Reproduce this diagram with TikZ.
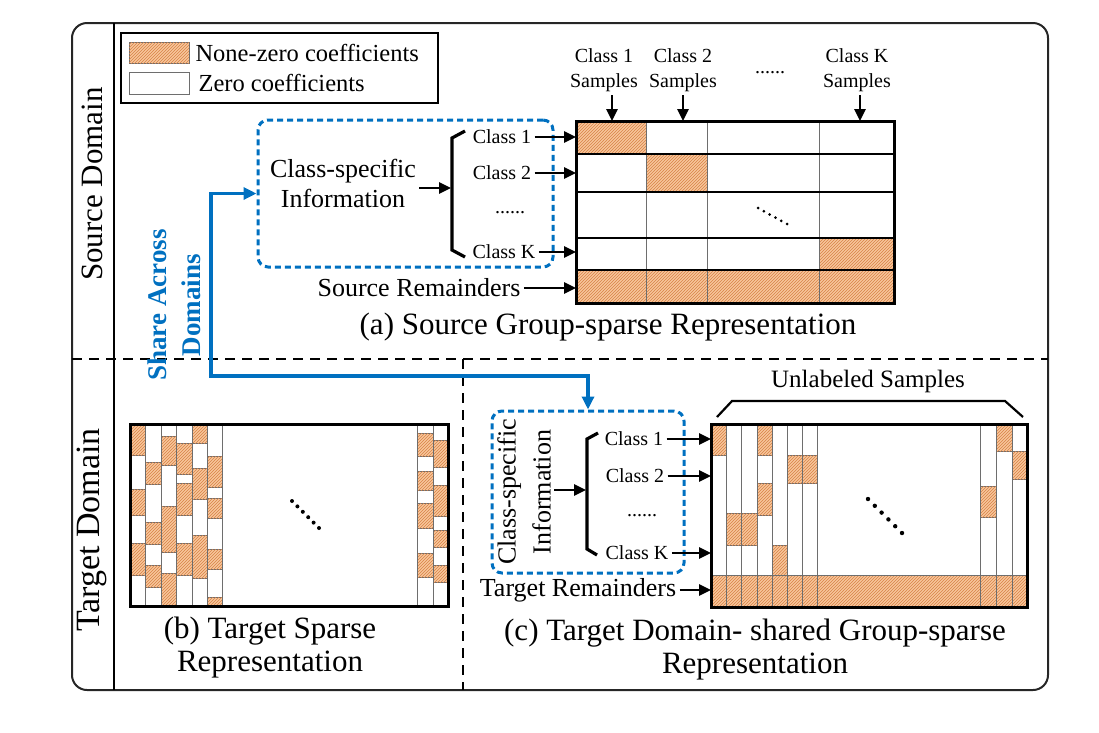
\documentclass[tikz,border=0pt]{standalone}
\usepackage{fontspec}
\setmainfont{Liberation Serif}
\usetikzlibrary{arrows.meta,patterns}

\definecolor{nzfill}{RGB}{248,198,155}
\definecolor{nzhatch}{RGB}{215,130,70}
\definecolor{shareblue}{RGB}{0,112,192}
\definecolor{gridgray}{RGB}{110,110,110}

\begin{document}
\begin{tikzpicture}[x=1pt,y=-1pt,
  nz/.style={fill=nzfill,postaction={pattern=north east lines,pattern color=nzhatch}},
  cellline/.style={draw=gridgray,line width=1pt},
  rowline/.style={line width=2.8pt},
  matframe/.style={line width=3pt},
  toarrow/.style={draw=black,line width=2.6pt,-{Triangle[length=12pt,width=11pt]}},
  clsbox/.style={draw=shareblue,line width=3pt,dash pattern=on 6pt off 4pt,rounded corners=10pt},
  share/.style={draw=shareblue,line width=3.2pt,{Triangle[length=13pt,width=12pt]}-{Triangle[length=13pt,width=12pt]}},
  lbl/.style={font=\fontsize{20}{25}\selectfont,align=center},
  leg/.style={font=\fontsize{24.5}{28}\selectfont},
  midtext/.style={font=\fontsize{26}{30}\selectfont,align=center},
  captext/.style={font=\fontsize{31}{33}\selectfont,align=center},
  domtext/.style={font=\fontsize{31}{33}\selectfont,rotate=90}]

\useasboundingbox (0,0) rectangle (1099,732);

\draw [line width=2pt,color=black!85,rounded corners=15pt] (72,23) rectangle (1048,690);
\draw [line width=1.2pt] (114,23) -- (114,690);
\draw [line width=1.5pt,dash pattern=on 10pt off 7pt] (72,359) -- (1048,359);
\draw [line width=1.5pt,dash pattern=on 10pt off 7pt] (463,359) -- (463,690);

\node [domtext] (srcdom) at (92,184) {Source Domain};
\node [domtext,font=\fontsize{34}{36}\selectfont] (tgtdom) at (92,530) {Target Domain};

% legend
\draw [line width=2pt] (121,33) rectangle (438,103);
\draw [nz,cellline] (129,42) rectangle (189,63);
\draw [cellline] (129,72) rectangle (189,94);
\node [leg,anchor=west] (lnz) at (192,53) {None-zero coefficients};
\node [leg,anchor=west] (lz) at (195,83) {Zero coefficients};

% (a) source
\node [clsbox,minimum width=295pt,minimum height=147pt] (sbox) at (405.5,193.5) {};
\node [midtext] (sinfo) at (343,183) {Class-specific\\Information};
\draw [line width=3.2pt] (465,131) -- (452,138) -- (452,250) -- (465,257);
\coordinate (sbr) at (451,188);
\draw [toarrow] (sinfo.east |- sbr) -- (sbr);

\node [lbl] (sc1) at (502,137) {Class 1};
\node [lbl] (sc2) at (502,173) {Class 2};
\node [lbl] (scd) at (510,213) {......};
\node [lbl] (sck) at (504,252) {Class K};
\node [midtext] (srem) at (419,288) {Source Remainders};

\fill [nz] (576,121) rectangle (646,154);
\fill [nz] (646,154) rectangle (707,192);
\fill [nz] (819,238) rectangle (894,270);
\fill [nz] (576,270) rectangle (894,303);
\foreach \x in {646,707,819} \draw [cellline] (\x,121) -- (\x,303);
\foreach \y in {154,192,238,270} \draw [rowline] (576,\y) -- (894,\y);
\draw [matframe] (576,121) rectangle (894,303);
\foreach \i in {0,...,5} \fill (758+\i*5.8,208+\i*3.2) circle (1.5pt);
\coordinate (sa) at (576,121);

\draw [toarrow] (sc1.east) -- (sc1.east -| sa);
\draw [toarrow] (sc2.east) -- (sc2.east -| sa);
\draw [toarrow] (sck.east) -- (sck.east -| sa);
\draw [toarrow] (srem.east) -- (srem.east -| sa);

\node [lbl] (cs1) at (604,70) {Class 1\\Samples};
\node [lbl] (cs2) at (683,70) {Class 2\\Samples};
\node [lbl] (csd) at (770,73) {......};
\node [lbl] (csk) at (857,70) {Class K\\Samples};
\coordinate (m1) at (612,121);
\coordinate (m2) at (683,121);
\coordinate (mk) at (860,121);
\draw [toarrow] (cs1.south -| m1) -- (m1);
\draw [toarrow] (cs2.south -| m2) -- (m2);
\draw [toarrow] (csk.south -| mk) -- (mk);

\node [captext] (capa) at (608,327) {(a) Source Group-sparse Representation};

% share across domains
\node [font=\bfseries\fontsize{27}{34}\selectfont,color=shareblue,rotate=90,align=center] (sharetxt) at (174,305) {Share Across\\Domains};
\node [clsbox,minimum width=192pt,minimum height=162pt] (tbox) at (588,492) {};
\coordinate (bend) at (211,376);
\draw [share] (sbox.west) -| (bend) -| (tbox.north);

% (b) target sparse
\foreach \xa/\xb/\segs in {130/145/{424/455,489/515,543/575}, 145/161/{462/484,522/544,565/587},
  161/176/{436/465,506/552,573/606}, 176/192/{443/474,483/515,543/575},
  192/207/{424/443,468/499,535/578}, 207/222/{456/487,498/518,549/569,597/606},
  417/433/{433/456,471/490,503/528,553/577}, 433/448/{440/467,485/516,530/547,565/582}}
  \foreach \ya/\yb in \segs \draw [nz,cellline] (\xa,\ya) rectangle (\xb,\yb);
\foreach \x in {145,161,176,192,207,222,417,433} \draw [cellline] (\x,424) -- (\x,606);
\draw [matframe] (130,424) rectangle (448,606);
\foreach \i in {0,...,5} \fill (292+\i*5.4,501+\i*5.4) circle (2pt);
\node [captext] (capb) at (270,648) {(b) Target Sparse\\Representation};

% (c) target shared
\node [midtext,rotate=90,font=\fontsize{26}{35}\selectfont] (tinfo) at (524,492) {Class-specific\\Information};
\draw [line width=3.2pt] (598,433) -- (587,439) -- (587,549) -- (597,555);
\coordinate (tbr) at (586,490);
\draw [toarrow] (tinfo.south |- tbr) -- (tbr);

\node [lbl] (tc1) at (634,439) {Class 1};
\node [lbl] (tc2) at (635,476) {Class 2};
\node [lbl] (tcd) at (642,516) {......};
\node [lbl] (tck) at (637,553) {Class K};
\node [midtext] (trem) at (578,590) {Target Remainders};

\fill [nz] (711,575) rectangle (1027,607);
\foreach \xa/\xb/\ya/\yb in {711/726/424/455, 726/741/513/545, 741/757/513/545, 757/772/424/455,
  757/772/483/515, 772/787/545/575, 787/802/455/483, 802/817/455/483,
  980/996/486/517, 996/1012/424/451, 1012/1027/451/479}
  \draw [nz,cellline] (\xa,\ya) rectangle (\xb,\yb);
\foreach \x in {726,741,757,772,787,802,817,980,996,1012} \draw [cellline] (\x,424) -- (\x,607);
\draw [cellline] (711,575) -- (1027,575);
\draw [matframe] (711,424) rectangle (1027,607);
\foreach \i in {0,...,5} \fill (868+\i*6.8,499+\i*6.8) circle (2.2pt);
\coordinate (ta) at (711,424);

\draw [toarrow] (tc1.east) -- (tc1.east -| ta);
\draw [toarrow] (tc2.east) -- (tc2.east -| ta);
\draw [toarrow] (tck.east) -- (tck.east -| ta);
\draw [toarrow] (trem.east) -- (trem.east -| ta);

\draw [line width=2.2pt] (717,417) -- (732,401) -- (1005,401) -- (1023,417);
\node [font=\fontsize{25}{30}\selectfont] (unl) at (868,381) {Unlabeled Samples};

\node [captext] (capc) at (755,650) {(c) Target Domain- shared Group-sparse\\Representation};
\end{tikzpicture}
\end{document}
